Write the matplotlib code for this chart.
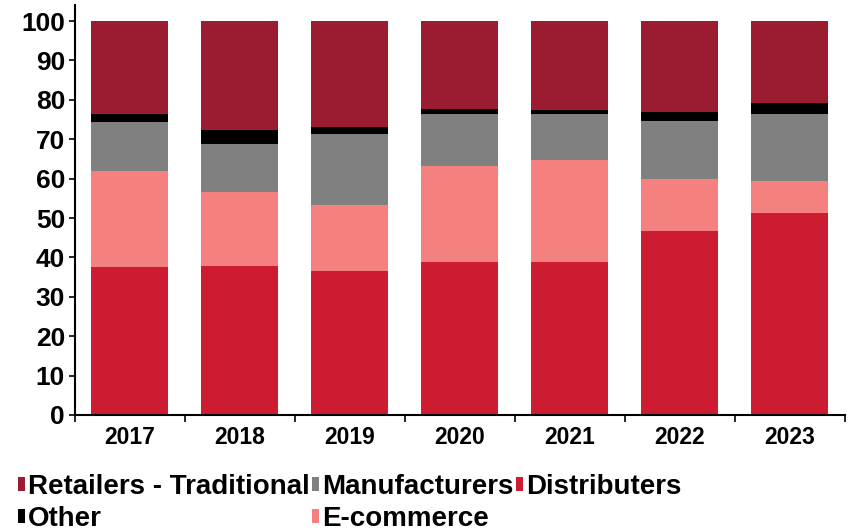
import matplotlib.pyplot as plt
import numpy as np

plt.rcParams['font.family'] = ['Liberation Sans', 'DejaVu Sans']
plt.rcParams['font.weight'] = 'bold'

years = ['2017', '2018', '2019', '2020', '2021', '2022', '2023']
distributers = [37.5, 37.9, 36.6, 38.8, 38.9, 46.7, 51.4]
ecommerce = [24.5, 18.6, 16.7, 24.3, 25.8, 13.3, 7.9]
manufacturers = [12.5, 12.4, 18.1, 13.2, 11.8, 14.7, 17.0]
other = [2.0, 3.5, 1.6, 1.5, 0.8, 2.1, 2.9]
retailers = [23.5, 27.6, 27.0, 22.2, 22.7, 23.2, 20.8]

fig = plt.figure(figsize=(8.5, 5.32), dpi=100)
ax = fig.add_axes([0.088, 0.22, 0.906, 0.77])

x = np.arange(len(years))
w = 0.7
b = np.zeros(len(years))
bars = {}
for name, vals, col in [('Distributers', distributers, '#CD1C31'),
                        ('E-commerce', ecommerce, '#F48080'),
                        ('Manufacturers', manufacturers, '#808080'),
                        ('Other', other, '#000000'),
                        ('Retailers - Traditional', retailers, '#9B1B30')]:
    bars[name] = ax.bar(x, vals, w, bottom=b, color=col, label=name)
    b = b + np.array(vals)

ax.set_xlim(-0.5, len(years) - 0.5)
ax.set_ylim(0, 104)
ax.set_yticks(range(0, 101, 10))
ax.set_yticklabels([str(v) for v in range(0, 101, 10)], fontsize=19, fontweight='bold')
ax.set_xticks(x)
ax.set_xticklabels(years, fontsize=16.5, fontweight='bold')
ax.set_xticks(np.arange(-0.5, len(years)), minor=True)
ax.tick_params(axis='x', which='major', length=0, pad=8)
ax.tick_params(axis='x', which='minor', length=5, width=1.2, direction='out')
ax.tick_params(axis='y', length=4, width=1.2, pad=3)
for s in ['top', 'right']:
    ax.spines[s].set_visible(False)
for s in ['left', 'bottom']:
    ax.spines[s].set_linewidth(1.5)

order = ['Retailers - Traditional', 'Other', 'Manufacturers', 'E-commerce', 'Distributers']
fig.legend([bars[n] for n in order], order, loc='lower left', bbox_to_anchor=(0.008, -0.02),
           ncol=3, frameon=False, fontsize=20, handlelength=0.25, handleheight=0.4,
           handletextpad=0.1, columnspacing=0.1, labelspacing=0.2, borderaxespad=0)

fig.savefig('out.png', dpi=100)
